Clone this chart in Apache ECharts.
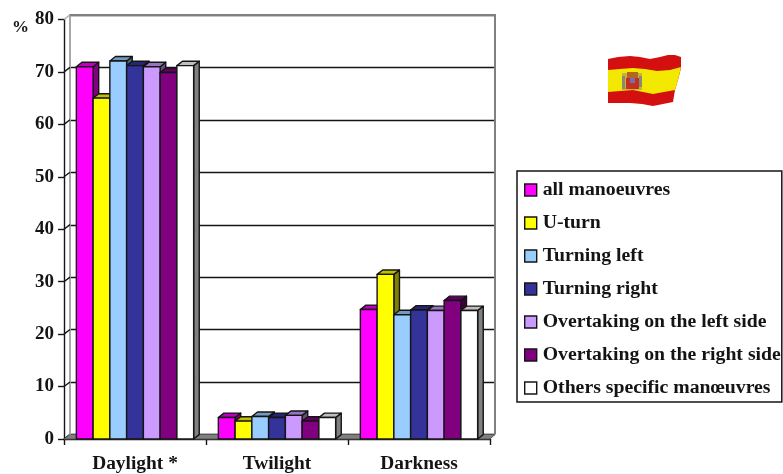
<!DOCTYPE html>
<html><head><meta charset="utf-8">
<style>html,body{margin:0;padding:0;background:#fff}#c{width:783px;height:474px}</style>
<script src="https://cdn.jsdelivr.net/npm/echarts@6/dist/echarts.min.js"></script>
</head><body><div id="c"></div>
<script>
const categories = ['Daylight *', 'Twilight', 'Darkness'];
const yTicks = [0, 10, 20, 30, 40, 50, 60, 70, 80];
const allManoeuvres = [71, 4.1, 24.7];
const uTurn = [65, 3.4, 31.4];
const turningLeft = [72.1, 4.3, 23.7];
const turningRight = [71.2, 4.1, 24.6];
const overtakingLeft = [71, 4.5, 24.5];
const overtakingRight = [69.9, 3.4, 26.4];
const others = [71.2, 4.1, 24.5];

const seriesNames = ['all manoeuvres','U-turn','Turning left','Turning right','Overtaking on the left side','Overtaking on the right side','Others specific manœuvres'];
const seriesValues = [allManoeuvres,uTurn,turningLeft,turningRight,overtakingLeft,overtakingRight,others];
const seriesColors = ['#FF00FF','#FFFF00','#99CCFF','#333399','#CC99FF','#800080','#FFFFFF'];

const FONT = '"Liberation Serif"';
const INK = '#141414';
function shade(hex, f){
  const n = parseInt(hex.slice(1),16);
  return 'rgb('+[(n>>16)&255,(n>>8)&255,n&255].map(c=>Math.round(c*f)).join(',')+')';
}
const D = {x:5.6,y:4.4};
const BAR_FRACTION = 0.118;

function barRenderer(idx, color){
  return function(params, api){
    const c = api.coord([api.value(0), api.value(1)]);
    const base = api.coord([api.value(0), 0]);
    const w = api.size([1,0])[0]*BAR_FRACTION;
    const x0 = c[0] + (idx-3.5)*w, x1 = x0+w, yt = c[1], yb = base[1];
    const st = {stroke:INK, lineWidth:1.4, lineJoin:'round'};
    return {type:'group',children:[
      {type:'polygon',shape:{points:[[x1,yb],[x1+D.x,yb-D.y],[x1+D.x,yt-D.y],[x1,yt]]},style:Object.assign({fill:shade(color,.5)},st)},
      {type:'polygon',shape:{points:[[x0,yt],[x0+D.x,yt-D.y],[x1+D.x,yt-D.y],[x1,yt]]},style:Object.assign({fill:shade(color,.75)},st)},
      {type:'rect',shape:{x:x0,y:yt,width:w,height:yb-yt},style:Object.assign({fill:color},st)}
    ]};
  };
}

const barSeries = seriesNames.map((name,i)=>({
  name, type:'custom', xAxisIndex:0, yAxisIndex:0, z:5,
  itemStyle:{color:seriesColors[i]},
  renderItem:barRenderer(i,seriesColors[i]),
  encode:{x:0,y:1},
  data:seriesValues[i].map((v,k)=>[k,v])
}));

const wallSeries = {
  type:'custom', xAxisIndex:0, yAxisIndex:0, z:1, silent:true,
  renderItem(params, api){
    const cs = params.coordSys, y = api.coord([0,api.value(1)])[1], x=cs.x;
    const kids = [{type:'line',shape:{x1:x,y1:y,x2:x+6,y2:y-4.6},style:{stroke:api.value(1)===80?'#b0b0b0':INK,lineWidth:1.4}}];
    if(api.value(1)===0){
      const r=x+cs.width, b=y;
      kids.push({type:'polygon',shape:{points:[[x,b],[x+6,b-4.6],[r+5,b-4.6],[r,b]]},style:{fill:'#808080',stroke:'#555',lineWidth:1}});
      kids.push({type:'line',shape:{x1:x+6,y1:b-4.6,x2:x+6,y2:cs.y-4.6},style:{stroke:'#a8a8a8',lineWidth:2}});
      kids.push({type:'line',shape:{x1:r+5,y1:b-4.6,x2:r+5,y2:cs.y-4.6},style:{stroke:'#808080',lineWidth:2}});
      kids.push({type:'line',shape:{x1:x+5,y1:cs.y-4.6,x2:r+6,y2:cs.y-4.6},style:{stroke:'#808080',lineWidth:2}});
    }
    return {type:'group',children:kids};
  },
  encode:{x:0,y:1},
  data:yTicks.map(v=>[0,v])
};

const flagRed = [[608,59],[618,57],[630,56],[640,57],[650,59],[660,57],[668,55],[675,55],[681,57],[681,68],[678,80],[675,90],[673,102],[663,104],[653,106],[642,104],[630,103],[618,103],[608,103]];
const flagYellow = [[608,70],[620,69],[633,68],[645,69],[657,71],[670,70],[681,67],[678,80],[675,90],[664,92],[653,94],[643,92],[633,90],[620,91],[608,92]];

const chart = echarts.init(document.getElementById('c'),null,{renderer:'canvas'});
chart.setOption({
  animation:false, backgroundColor:'#fff',
  title:{text:'%',left:12,top:19,padding:0,textStyle:{fontFamily:FONT,fontWeight:'bold',fontSize:17,color:INK}},
  grid:[
    {left:64,top:19.5,width:426,height:419.5},
    {left:70,top:15,width:425,height:419.5}
  ],
  xAxis:[
    {type:'category',gridIndex:0,data:categories,
      axisLine:{lineStyle:{color:INK,width:1.4}},
      axisTick:{show:true,length:6,alignWithLabel:false,lineStyle:{color:INK,width:1.4}},
      axisLabel:{interval:0,margin:15,fontFamily:FONT,fontWeight:'bold',fontSize:19.4,color:INK},
      splitLine:{show:false}},
    {type:'category',gridIndex:1,data:categories,show:false}
  ],
  yAxis:[
    {type:'value',gridIndex:0,min:0,max:80,interval:10,
      axisLine:{show:true,lineStyle:{color:INK,width:1.4}},
      axisTick:{show:true,length:6,lineStyle:{color:INK,width:1.4}},
      axisLabel:{margin:10,fontFamily:FONT,fontWeight:'bold',fontSize:19,color:INK},
      splitLine:{show:false}},
    {type:'value',gridIndex:1,min:0,max:80,interval:10,
      axisLine:{show:false},axisTick:{show:false},axisLabel:{show:false},
      splitLine:{show:true,lineStyle:{color:INK,width:1.4}}}
  ],
  legend:{
    data:seriesNames, orient:'vertical', left:517, top:171,
    padding:[9,1,4,7], itemWidth:12, itemHeight:12, itemGap:13,
    icon:'rect', selectedMode:false,
    borderColor:INK, borderWidth:1.5, backgroundColor:'#fff',
    itemStyle:{borderColor:INK,borderWidth:1.4},
    textStyle:{fontFamily:FONT,fontWeight:'bold',fontSize:19.75,color:INK,padding:[1,0,0,1]}
  },
  graphic:[
    {type:'polygon',shape:{points:flagRed},style:{fill:'#d40f0f'},z:10},
    {type:'polygon',shape:{points:flagYellow},style:{fill:'#f2e800'},z:11},
    {type:'rect',shape:{x:622,y:73,width:20,height:17},style:{fill:'#c9b040'},z:12},
    {type:'rect',shape:{x:627,y:72,width:11,height:6},style:{fill:'#b5651d'},z:13},
    {type:'rect',shape:{x:626,y:78,width:13,height:11},style:{fill:'#c4301c'},z:13},
    {type:'rect',shape:{x:630,y:78,width:5,height:5},style:{fill:'#7070b8'},z:14},
    {type:'rect',shape:{x:622,y:76,width:3,height:13},style:{fill:'#8a8a70'},z:14},
    {type:'rect',shape:{x:639,y:76,width:3,height:11},style:{fill:'#8a8a70'},z:14}
  ],
  series:[wallSeries].concat(barSeries)
});
</script></body></html>
